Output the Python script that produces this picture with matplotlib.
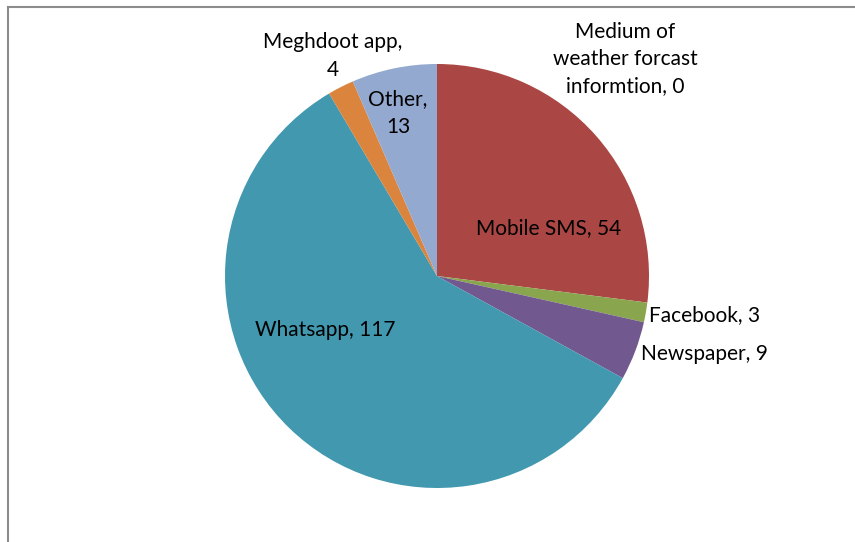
import matplotlib
matplotlib.use("Agg")
import matplotlib.pyplot as plt

categories = ["Medium of\nweather forcast\ninformtion", "Mobile SMS", "Facebook", "Newspaper",
              "Whatsapp", "Meghdoot app", "Other"]
values = [0, 54, 3, 9, 117, 4, 13]
colors = ["#4572A7", "#AA4643", "#89A54E", "#71588F", "#4198AF", "#DB843D", "#93A9CF"]

W, H = 855, 542
fig = plt.figure(figsize=(W / 100, H / 100), dpi=100)
cx, cy, r = 437, 276, 212
ax = fig.add_axes([(cx - r) / W, (H - cy - r) / H, 2 * r / W, 2 * r / H])
ax.pie(values, colors=colors, startangle=90, counterclock=False, radius=1,
       wedgeprops=dict(linewidth=0))
ax.set_xlim(-1, 1)
ax.set_ylim(-1, 1)
ax.set_aspect("equal")
ax.axis("off")

# label positions (pixel centres), converted to data coordinates
label_px = [(625, 59), (549, 228), (705, 315), (704, 354), (325, 330), (333, 56), (398, 113)]
label_text = [
    "Medium of\nweather forcast\ninformtion, 0",
    "Mobile SMS, 54",
    "Facebook, 3",
    "Newspaper, 9",
    "Whatsapp, 117",
    "Meghdoot app,\n4",
    "Other,\n13",
]
for (px, py), t in zip(label_px, label_text):
    ax.text((px - cx) / r, (cy - py) / r, t, ha="center", va="center",
            fontsize=15, family="Lato", color="black", linespacing=1.45,
            clip_on=False)

# chart border (top and left visible)
fig.add_artist(plt.Line2D([8 / W, 1], [1 - 7 / H, 1 - 7 / H], color="#8c8c8c", lw=1.5,
                          transform=fig.transFigure))
fig.add_artist(plt.Line2D([8 / W, 8 / W], [0, 1 - 7 / H], color="#8c8c8c", lw=1.5,
                          transform=fig.transFigure))

fig.savefig("out.png", dpi=100)
